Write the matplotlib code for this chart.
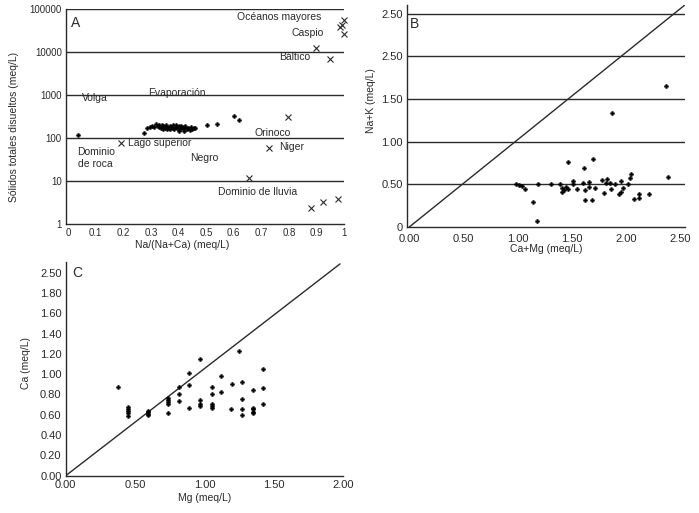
import matplotlib
matplotlib.use("Agg")
import matplotlib.pyplot as plt

plt.rcParams['font.family'] = ['Liberation Sans', 'DejaVu Sans']

INK = '#2a2a2a'

# --- Panel A: Gibbs diagram ---
a_dot_x = [0.034, 0.275, 0.285, 0.295, 0.305, 0.31, 0.32, 0.325, 0.33, 0.335, 0.34,
           0.345, 0.35, 0.355, 0.36, 0.365, 0.37, 0.375, 0.38, 0.385, 0.39, 0.395,
           0.40, 0.405, 0.41, 0.415, 0.42, 0.425, 0.43, 0.435, 0.44, 0.445, 0.45,
           0.455, 0.46, 0.345, 0.36, 0.38, 0.40, 0.42, 0.33, 0.37, 0.39, 0.41,
           0.505, 0.538, 0.60, 0.618]
a_dot_y = [115, 130, 175, 185, 190, 178, 215, 195, 180, 170, 205,
           190, 175, 200, 185, 170, 195, 180, 200, 165, 185, 175,
           195, 160, 180, 170, 150, 190, 165, 175, 155, 180, 165,
           170, 175, 165, 160, 170, 150, 185, 200, 160, 200, 190,
           203, 210, 333, 265]

a_cross_x = [0.19, 0.657, 0.728, 0.798, 0.879, 0.923, 0.979, 0.90, 0.95,
             0.985, 0.993, 1.0, 1.0]
a_cross_y = [77, 11.5, 59, 308, 2.35, 3.2, 3.8, 12300, 7100,
             39000, 42000, 55000, 26500]

a_labels = [
    ("Océanos mayores", 0.613, 66000),
    ("Caspio", 0.811, 27900),
    ("Báltico", 0.764, 7690),
    ("Volga", 0.05, 851),
    ("Evaporación", 0.289, 1150),
    ("Lago superior", 0.217, 78.5),
    ("Dominio\nde roca", 0.034, 35),
    ("Orinoco", 0.677, 130),
    ("Niger", 0.764, 63),
    ("Negro", 0.441, 34),
    ("Dominio de lluvia", 0.543, 5.66),
]
a_xticks = [0, 0.1, 0.2, 0.3, 0.4, 0.5, 0.6, 0.7, 0.8, 0.9, 1.0]
a_xticklabels = ['0', '0.1', '0.2', '0.3', '0.4', '0.5', '0.6', '0.7', '0.8', '0.9', '1']
a_yticks = [1, 10, 100, 1000, 10000, 100000]

# --- Panel B: Na+K vs Ca+Mg ---
b_x = [0.98, 1.01, 1.04, 1.07, 1.14, 1.19, 1.18, 1.31, 1.39, 1.41, 1.41, 1.43,
       1.44, 1.46, 1.46, 1.51, 1.51, 1.55, 1.60, 1.61, 1.62, 1.62, 1.66, 1.66,
       1.68, 1.69, 1.71, 1.78, 1.79, 1.81, 1.82, 1.85, 1.86, 1.87, 1.90, 1.93,
       1.95, 1.95, 1.97, 2.02, 2.03, 2.04, 2.07, 2.12, 2.12, 2.21, 2.37, 2.38]
b_y = [0.50, 0.49, 0.48, 0.45, 0.29, 0.50, 0.07, 0.50, 0.50, 0.46, 0.41, 0.43,
       0.47, 0.76, 0.45, 0.54, 0.50, 0.45, 0.52, 0.69, 0.43, 0.32, 0.53, 0.47,
       0.32, 0.80, 0.46, 0.55, 0.40, 0.51, 0.56, 0.52, 0.44, 1.34, 0.50, 0.39,
       0.54, 0.41, 0.46, 0.50, 0.57, 0.62, 0.33, 0.39, 0.34, 0.39, 1.65, 0.58]
b_line_x = [0, 2.54]
b_line_y = [0, 2.60]
b_xticks = [0, 0.5, 1.0, 1.5, 2.0, 2.5]
b_xticklabels = ['0.00', '0.50', '1.00', '1.50', '2.00', '2.50']
b_yticks = [0, 0.5, 1.0, 1.5, 2.0, 2.5]
b_yticklabels = ['0', '0.50', '1.00', '1.50', '2.50', '2.50']

# --- Panel C: Ca vs Mg ---
c_x = [0.38, 0.45, 0.45, 0.45, 0.45, 0.45, 0.59, 0.59, 0.59, 0.59,
       0.74, 0.74, 0.74, 0.74, 0.74, 0.82, 0.82, 0.82, 0.89, 0.89, 0.89,
       0.97, 0.97, 0.97, 0.97, 1.055, 1.055, 1.055, 1.055, 1.055,
       1.12, 1.12, 1.19, 1.20, 1.25, 1.27, 1.27, 1.27, 1.27,
       1.35, 1.35, 1.35, 1.35, 1.35, 1.42, 1.42, 1.42]
c_y = [0.87, 0.59, 0.62, 0.64, 0.66, 0.68, 0.60, 0.61, 0.63, 0.64,
       0.62, 0.71, 0.73, 0.75, 0.77, 0.74, 0.80, 0.87, 0.67, 0.89, 1.01,
       0.69, 0.71, 0.75, 1.15, 0.67, 0.69, 0.71, 0.80, 0.87,
       0.82, 0.98, 0.66, 0.90, 1.23, 0.60, 0.655, 0.76, 0.92,
       0.62, 0.63, 0.66, 0.67, 0.845, 0.71, 0.86, 1.05]
c_line_x = [0, 1.976]
c_line_y = [0, 2.085]
c_xticks = [0, 0.5, 1.0, 1.5, 2.0]
c_xticklabels = ['0.00', '0.50', '1.00', '1.50', '2.00']
c_yticks = [0, 0.2, 0.4, 0.6, 0.8, 1.0, 1.2, 1.4, 1.6, 1.8, 2.0]
c_yticklabels = ['0.00', '0.20', '0.40', '0.60', '0.80', '1.00', '1.20',
                 '1.40', '1.60', '1.80', '2.50']

DOT = dict(linestyle='none', marker='P', ms=3.0, color='black', mec='black',
           mew=0.3, zorder=3)


def style_axes(ax, fs):
    for side in ('top', 'right'):
        ax.spines[side].set_visible(False)
    for side in ('left', 'bottom'):
        ax.spines[side].set_color(INK)
        ax.spines[side].set_linewidth(1.0)
    ax.tick_params(length=0, pad=3, labelsize=fs, colors=INK)


fig = plt.figure(figsize=(6.99, 5.13), dpi=100)

# Panel A
axA = fig.add_axes([0.0944, 0.5634, 0.3977, 0.4185])
axA.set_yscale('log')
axA.set_xlim(-0.008, 1.0)
axA.set_ylim(1, 100000)
for yv in a_yticks[1:]:
    axA.axhline(yv, color=INK, lw=1.0, zorder=1)
axA.plot(a_dot_x, a_dot_y, **DOT)
axA.plot(a_cross_x, a_cross_y, linestyle='none', marker='x', ms=4.5, mew=0.8,
         color=INK, zorder=3, clip_on=False)
for txt, x, y in a_labels:
    axA.text(x, y, txt, fontsize=7.5, color=INK, ha='left', va='center',
             linespacing=1.25)
axA.text(0.01, 47800, 'A', fontsize=10, color=INK, ha='left', va='center')
axA.set_xticks(a_xticks)
axA.set_xticklabels(a_xticklabels)
axA.set_yticks(a_yticks)
axA.set_yticklabels([str(v) for v in a_yticks])
axA.minorticks_off()
style_axes(axA, 7)
axA.set_xlabel('Na/(Na+Ca) (meq/L)', fontsize=7.5, color=INK)
axA.xaxis.set_label_coords(0.417, -0.075)
axA.set_ylabel('Sólidos totales disueltos (meq/L)', fontsize=7.5, color=INK)
axA.yaxis.set_label_coords(-0.17, 0.452)

# Panel B
axB = fig.add_axes([0.5818, 0.5575, 0.398, 0.4328])
axB.set_xlim(-0.024, 2.54)
axB.set_ylim(0, 2.6)
for yv in b_yticks[1:]:
    axB.axhline(yv, color=INK, lw=1.0, zorder=1)
axB.plot(b_line_x, b_line_y, color=INK, lw=1.0, zorder=2)
axB.plot(b_x, b_y, **DOT)
axB.text(0.006, 2.38, 'B', fontsize=10, color=INK, ha='left', va='center')
axB.set_xticks(b_xticks)
axB.set_xticklabels(b_xticklabels)
axB.set_yticks(b_yticks)
axB.set_yticklabels(b_yticklabels)
style_axes(axB, 8)
axB.tick_params(axis='x', pad=5)
axB.set_xlabel('Ca+Mg (meq/L)', fontsize=7.5, color=INK, labelpad=0)
axB.set_ylabel('Na+K (meq/L)', fontsize=7.5, color=INK)
axB.yaxis.set_label_coords(-0.11, 0.57)

# Panel C
axC = fig.add_axes([0.094, 0.0727, 0.397, 0.4166])
axC.set_xlim(0, 2.0)
axC.set_ylim(0, 2.105)
axC.plot(c_line_x, c_line_y, color=INK, lw=1.0, zorder=2)
axC.plot(c_x, c_y, **DOT)
axC.text(0.05, 2.0, 'C', fontsize=10, color=INK, ha='left', va='center')
axC.set_xticks(c_xticks)
axC.set_xticklabels(c_xticklabels)
axC.set_yticks(c_yticks)
axC.set_yticklabels(c_yticklabels)
style_axes(axC, 8)
axC.set_xlabel('Mg (meq/L)', fontsize=7.5, color=INK, labelpad=2)
axC.set_ylabel('Ca (meq/L)', fontsize=7.5, color=INK)
axC.yaxis.set_label_coords(-0.125, 0.527)

fig.savefig('out.png', dpi=100)
